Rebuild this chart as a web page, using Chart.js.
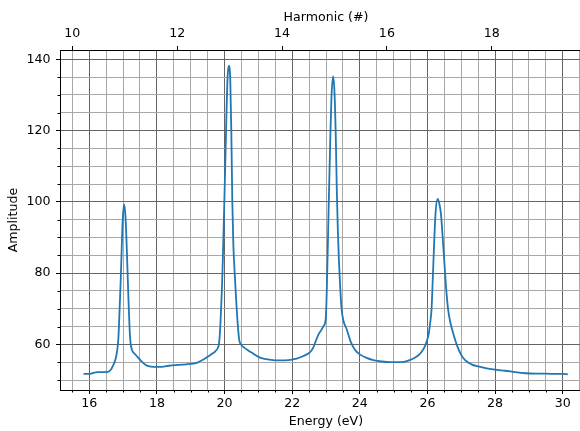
<!DOCTYPE html>
<html><head><meta charset="utf-8">
<script src="https://cdn.jsdelivr.net/npm/chart.js@4/dist/chart.umd.min.js"></script>
<style>html,body{margin:0;padding:0;overflow:hidden;background:#fff;width:580px;height:431px}canvas{display:block}</style>
</head><body>
<canvas id="c" width="600" height="431" style="width:600px;height:431px"></canvas>
<script>
// ---- data ----
const energy = [15.83,16.05,16.15,16.25,16.55,16.63,16.70,16.77,16.82,16.86,16.89,16.93,16.96,16.99,17.03,17.07,17.10,17.13,17.16,17.19,17.22,17.27,17.35,17.45,17.56,17.66,17.75,17.90,18.15,18.35,18.54,18.75,19.00,19.20,19.35,19.50,19.62,19.72,19.80,19.84,19.88,19.92,19.95,19.98,20.01,20.05,20.09,20.13,20.17,20.20,20.23,20.26,20.30,20.34,20.38,20.43,20.50,20.58,20.70,20.85,21.00,21.15,21.35,21.60,21.90,22.13,22.30,22.45,22.55,22.63,22.70,22.78,22.86,22.93,22.99,23.02,23.05,23.08,23.12,23.16,23.21,23.25,23.29,23.32,23.35,23.38,23.42,23.46,23.52,23.61,23.72,23.86,24.00,24.20,24.40,24.65,24.90,25.10,25.30,25.45,25.60,25.75,25.85,25.93,26.00,26.04,26.08,26.12,26.16,26.20,26.24,26.30,26.35,26.40,26.45,26.50,26.55,26.61,26.68,26.76,26.87,27.00,27.12,27.30,27.50,27.75,28.00,28.30,28.60,28.90,29.20,29.50,29.80,30.00,30.15];
const amplitude = [51.7,51.8,52.1,52.2,52.3,52.8,54.0,55.6,58.0,61.5,68,78,87,95,99.3,96,89.5,81,72.5,65,60.5,58.3,57.3,56.2,55.1,54.3,53.9,53.7,53.7,54.0,54.2,54.3,54.5,54.9,55.6,56.5,57.3,58.0,59.0,60.5,66,75,84,95,106,122,135,138.2,134,120,100,88,80,73,67,61.5,59.8,59.1,58.3,57.4,56.5,56.0,55.7,55.5,55.6,56.0,56.6,57.3,58.0,59.2,61.0,62.8,64.0,65.2,67,74,86,99,115,129,135.2,131,118,103,92,84,76,70,66.5,64.3,61,58.4,57.2,56.2,55.6,55.2,55.0,55.0,55.1,55.5,56.1,57.1,58.2,59.6,61.5,63.1,66,69.8,79,89,97,100.8,99.5,96.5,90,83,76,69.8,66,63.1,59.8,57.0,55.5,54.4,53.8,53.3,52.9,52.6,52.2,51.9,51.8,51.8,51.7,51.7,51.6];
const energyTicks = [16,18,20,22,24,26,28,30];
const harmonicTicks = [10,12,14,16,18];
const ampTicks = [60,80,100,120,140];
const PHOTON_EV = 1.55;
const X_MIN = 15.135, X_MAX = 30.865;
const Y_MIN = 47.2, Y_MAX = 142.6;

Chart.defaults.font.family = "'DejaVu Sans', sans-serif";
Chart.defaults.font.size = 12.6;
Chart.defaults.color = '#000';

const MAJOR_GRID = '#646464', MINOR_GRID = '#a8a8a8';
const isIn = (arr, v) => arr.some(a => Math.abs(a - v) < 1e-6);

const minorTicks = {
  id: 'minorTicks',
  afterDraw(chart) {
    const ctx = chart.ctx, a = chart.chartArea;
    const xs = chart.scales.x, ys = chart.scales.y;
    ctx.save();
    ctx.strokeStyle = '#000'; ctx.lineWidth = 1;
    ctx.beginPath();
    xs.ticks.forEach(t => {
      if (!isIn(energyTicks, t.value)) {
        const px = Math.round(xs.getPixelForValue(t.value)) + 0.5;
        ctx.moveTo(px, a.bottom); ctx.lineTo(px, a.bottom + 2.5);
      }
    });
    ys.ticks.forEach(t => {
      if (!isIn(ampTicks, t.value)) {
        const py = Math.round(ys.getPixelForValue(t.value)) + 0.5;
        ctx.moveTo(a.left, py); ctx.lineTo(a.left - 2.5, py);
      }
    });
    ctx.stroke();
    ctx.restore();
  }
};

new Chart(document.getElementById('c'), {
  type: 'line',
  data: {
    datasets: [{
      data: energy.map((x, i) => ({x: x, y: amplitude[i]})),
      borderColor: '#1f77b4',
      borderWidth: 1.8,
      pointRadius: 0,
      fill: false,
      cubicInterpolationMode: 'monotone'
    }]
  },
  options: {
    responsive: false,
    animation: false,
    devicePixelRatio: 1,
    layout: {padding: {left: 0, right: 8, top: 0, bottom: 0}},
    plugins: {legend: {display: false}, tooltip: {enabled: false}},
    scales: {
      x: {
        type: 'linear', position: 'bottom', min: X_MIN, max: X_MAX,
        afterFit: s => { s.height = 41; },
        ticks: {stepSize: 0.5, includeBounds: false, autoSkip: false, maxRotation: 0, padding: 2.5,
          callback: v => isIn(energyTicks, v) ? String(Math.round(v)) : ''},
        grid: {
          color: c => isIn(energyTicks, c.tick.value) ? MAJOR_GRID : MINOR_GRID,
          lineWidth: 1, tickLength: 4,
          tickColor: c => isIn(energyTicks, c.tick.value) ? '#000' : 'rgba(0,0,0,0)'
        },
        border: {color: '#000', width: 1},
        title: {display: true, text: 'Energy (eV)', padding: {top: 0, bottom: 2}}
      },
      x2: {
        type: 'linear', position: 'top', min: X_MIN / PHOTON_EV, max: X_MAX / PHOTON_EV,
        afterFit: s => { s.height = 50; },
        ticks: {stepSize: 2, includeBounds: false, autoSkip: false, maxRotation: 0, padding: 4.5,
          callback: v => isIn(harmonicTicks, v) ? String(Math.round(v)) : ''},
        grid: {drawOnChartArea: false, tickLength: 4, tickColor: '#000'},
        border: {color: '#000', width: 1},
        title: {display: true, text: 'Harmonic (#)', padding: {top: 10.5, bottom: 0}}
      },
      y: {
        type: 'linear', position: 'left', min: Y_MIN, max: Y_MAX,
        afterFit: s => { s.width = 60; },
        ticks: {stepSize: 5, includeBounds: false, autoSkip: false, padding: 5.5,
          callback: v => isIn(ampTicks, v) ? String(Math.round(v)) : ''},
        grid: {
          color: c => isIn(ampTicks, c.tick.value) ? MAJOR_GRID : MINOR_GRID,
          lineWidth: 1, tickLength: 4,
          tickColor: c => isIn(ampTicks, c.tick.value) ? '#000' : 'rgba(0,0,0,0)'
        },
        border: {color: '#000', width: 1},
        title: {display: true, text: 'Amplitude', padding: {top: 6.5, bottom: 0}}
      }
    }
  },
  plugins: [minorTicks]
});
</script></body></html>
